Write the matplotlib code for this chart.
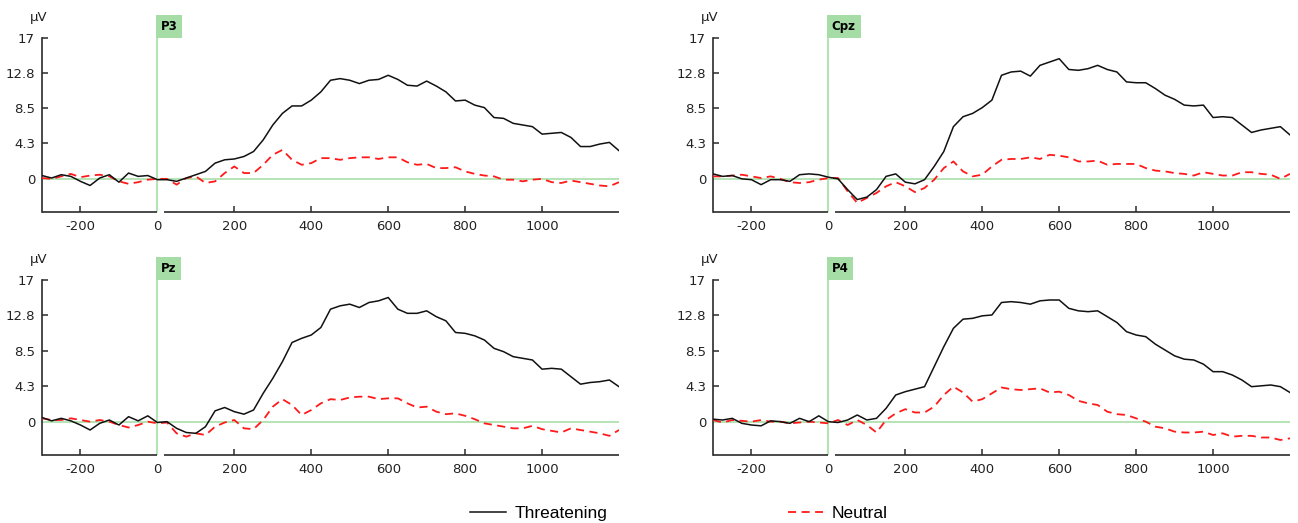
import numpy as np
import matplotlib
matplotlib.use("Agg")
import matplotlib.pyplot as plt
import matplotlib.transforms as mtransforms
from matplotlib.lines import Line2D

plt.rcParams["axes.unicode_minus"] = False

# time axis (ms), sampled every 25 ms
times = np.arange(-300, 1201, 25)

channels = ["P3", "Cpz", "Pz", "P4"]

# ERP amplitudes (uV)
p3_threat = [0.4, 0.1, 0.5, 0.3, -0.3, -0.8, 0.1, 0.5, -0.4, 0.7,
             0.3, 0.4, -0.1, -0.1, -0.3, 0.1, 0.5, 0.9, 1.9, 2.3,
             2.4, 2.7, 3.3, 4.7, 6.5, 7.9, 8.8, 8.8, 9.5, 10.5,
             11.9, 12.1, 11.9, 11.5, 11.9, 12.0, 12.5, 12.0, 11.3, 11.2,
             11.8, 11.2, 10.5, 9.4, 9.5, 8.9, 8.6, 7.4, 7.3, 6.7,
             6.5, 6.3, 5.4, 5.5, 5.6, 5.0, 3.9, 3.9, 4.2, 4.4, 3.4]
p3_neutral = [0.1, 0.0, 0.3, 0.6, 0.2, 0.4, 0.5, 0.3, -0.3, -0.6,
              -0.4, -0.1, 0.0, 0.0, -0.7, 0.1, 0.3, -0.5, -0.3, 0.7,
              1.5, 0.7, 0.7, 1.7, 2.9, 3.5, 2.3, 1.7, 1.9, 2.5,
              2.5, 2.3, 2.5, 2.6, 2.6, 2.4, 2.6, 2.6, 2.0, 1.7,
              1.8, 1.3, 1.3, 1.4, 0.9, 0.6, 0.4, 0.3, -0.1, -0.1,
              -0.3, -0.1, 0.0, -0.4, -0.5, -0.2, -0.4, -0.6, -0.8, -0.9, -0.4]

cpz_threat = [0.6, 0.3, 0.4, 0.0, -0.1, -0.7, -0.1, -0.1, -0.3, 0.5,
              0.6, 0.5, 0.2, 0.0, -1.3, -2.5, -2.2, -1.3, 0.3, 0.6,
              -0.4, -0.6, -0.1, 1.5, 3.3, 6.3, 7.5, 7.9, 8.6, 9.5,
              12.5, 12.9, 13.0, 12.4, 13.7, 14.1, 14.5, 13.2, 13.1, 13.3,
              13.7, 13.2, 12.9, 11.7, 11.6, 11.6, 10.9, 10.1, 9.6, 8.9,
              8.8, 8.9, 7.4, 7.5, 7.4, 6.5, 5.6, 5.9, 6.1, 6.3, 5.3]
cpz_neutral = [0.3, 0.3, 0.4, 0.5, 0.3, 0.1, 0.3, 0.0, -0.4, -0.5,
               -0.4, -0.1, 0.1, 0.1, -1.5, -2.9, -2.3, -1.7, -0.9, -0.4,
               -0.9, -1.6, -1.1, -0.1, 1.3, 2.1, 0.9, 0.3, 0.5, 1.5,
               2.3, 2.4, 2.4, 2.6, 2.4, 2.9, 2.8, 2.6, 2.1, 2.1,
               2.2, 1.7, 1.8, 1.8, 1.8, 1.3, 1.0, 0.9, 0.7, 0.6,
               0.4, 0.8, 0.6, 0.4, 0.4, 0.8, 0.8, 0.6, 0.5, 0.0, 0.6]

pz_threat = [0.5, 0.1, 0.4, 0.1, -0.4, -1.0, -0.2, 0.2, -0.4, 0.6,
             0.1, 0.7, -0.1, 0.0, -0.8, -1.3, -1.4, -0.6, 1.3, 1.7,
             1.2, 0.9, 1.4, 3.4, 5.2, 7.2, 9.5, 10.0, 10.4, 11.3,
             13.5, 13.9, 14.1, 13.7, 14.3, 14.5, 14.9, 13.5, 13.0, 13.0,
             13.3, 12.6, 12.1, 10.7, 10.6, 10.3, 9.8, 8.8, 8.4, 7.8,
             7.6, 7.4, 6.3, 6.4, 6.3, 5.4, 4.5, 4.7, 4.8, 5.0, 4.2]
pz_neutral = [0.4, 0.2, 0.2, 0.4, 0.2, 0.0, 0.2, 0.0, -0.4, -0.7,
              -0.4, 0.0, -0.2, -0.1, -1.4, -1.8, -1.4, -1.6, -0.6, -0.1,
              0.2, -0.8, -0.9, 0.2, 1.8, 2.7, 2.0, 0.8, 1.4, 2.2,
              2.7, 2.6, 2.9, 3.0, 3.0, 2.7, 2.8, 2.8, 2.2, 1.7,
              1.8, 1.2, 0.9, 1.0, 0.7, 0.3, -0.2, -0.4, -0.6, -0.8,
              -0.8, -0.5, -0.9, -1.1, -1.3, -0.8, -1.0, -1.2, -1.4, -1.7, -1.0]

p4_threat = [0.3, 0.2, 0.4, -0.2, -0.4, -0.5, 0.1, 0.0, -0.2, 0.4,
             0.0, 0.7, 0.0, -0.1, 0.2, 0.8, 0.2, 0.4, 1.6, 3.2,
             3.6, 3.9, 4.2, 6.6, 9.0, 11.2, 12.3, 12.4, 12.7, 12.8,
             14.3, 14.4, 14.3, 14.1, 14.5, 14.6, 14.6, 13.6, 13.3, 13.2,
             13.3, 12.6, 11.9, 10.8, 10.4, 10.2, 9.3, 8.6, 7.9, 7.5,
             7.4, 6.9, 6.0, 6.0, 5.6, 5.0, 4.2, 4.3, 4.4, 4.2, 3.5]
p4_neutral = [0.2, -0.1, 0.2, 0.1, 0.0, 0.2, 0.0, 0.0, -0.2, -0.1,
              0.0, -0.1, -0.2, 0.2, -0.4, 0.2, -0.4, -1.3, 0.2, 1.0,
              1.5, 1.1, 1.1, 1.8, 3.2, 4.2, 3.5, 2.4, 2.7, 3.4,
              4.1, 3.9, 3.8, 3.9, 4.0, 3.5, 3.6, 3.2, 2.5, 2.2,
              2.0, 1.2, 0.9, 0.8, 0.4, 0.0, -0.6, -0.8, -1.2, -1.3,
              -1.3, -1.2, -1.6, -1.4, -1.8, -1.7, -1.7, -1.9, -1.9, -2.2, -2.0]

threat = {"P3": p3_threat, "Cpz": cpz_threat, "Pz": pz_threat, "P4": p4_threat}
neutral = {"P3": p3_neutral, "Cpz": cpz_neutral, "Pz": pz_neutral, "P4": p4_neutral}

xticks = [-200, 0, 200, 400, 600, 800, 1000]
yticks = [0, 4.3, 8.5, 12.8, 17]
ytick_labels = ["0", "4.3", "8.5", "12.8", "17"]

W, H = 1298, 523
fig = plt.figure(figsize=(W / 100, H / 100), dpi=100)

# axes boxes in pixels: left, top, right, bottom
boxes = {
    "P3": (42, 38, 619, 212),
    "Cpz": (713, 38, 1290, 212),
    "Pz": (42, 280, 619, 455),
    "P4": (713, 280, 1290, 455),
}

green = "#b4e4b4"
box_green = "#a6dca6"
spine_col = "#2b2b2b"

for ch in channels:
    l, t, r, b = boxes[ch]
    ax = fig.add_axes([l / W, 1 - b / H, (r - l) / W, (b - t) / H])
    ax.set_xlim(-300, 1200)
    ax.set_ylim(-4, 17)

    ax.axhline(0, color=green, lw=1.4, zorder=1)
    ax.axvline(0, color=green, lw=1.5, zorder=1)

    ax.plot(times, neutral[ch], color="#ff1a1a", lw=1.3, dashes=(4.5, 3), zorder=3)
    ax.plot(times, threat[ch], color="#111111", lw=1.1, zorder=4)

    for s in ["top", "right", "bottom"]:
        ax.spines[s].set_visible(False)
    ax.spines["left"].set_color(spine_col)
    ax.spines["left"].set_linewidth(1.2)

    # broken bottom axis around stimulus onset
    ax.plot([-300, -1], [-4, -4], color=spine_col, lw=1.2, clip_on=False,
            solid_capstyle="butt")
    ax.plot([18, 1200], [-4, -4], color=spine_col, lw=1.2, clip_on=False,
            solid_capstyle="butt")

    ax.set_xticks(xticks)
    ax.set_yticks(yticks)
    ax.set_yticklabels(ytick_labels)
    ax.tick_params(direction="in", length=4, width=1.1, color=spine_col,
                   labelsize=9.5, labelcolor="#222222")
    ax.tick_params(axis="x", pad=6)
    ax.tick_params(axis="y", pad=5)
    ax.xaxis.get_major_ticks()[1].tick1line.set_visible(False)
    ax.yaxis.get_major_ticks()[0].tick1line.set_visible(False)

    ax.text(-0.005, 1.12, "µV", transform=ax.transAxes, ha="center",
            va="center", fontsize=9.5, color="#222222")

    trans = mtransforms.blended_transform_factory(ax.transData, ax.transAxes)
    ax.annotate(ch, xy=(0, 1), xycoords=trans, xytext=(2.5, 3.5),
                textcoords="offset points", ha="left", va="bottom",
                fontsize=8.5, fontweight="bold", color="black",
                bbox=dict(boxstyle="square,pad=0.4", fc=box_green, ec="none"))

handles = [Line2D([], [], color="#111111", lw=1.1),
           Line2D([], [], color="#ff1a1a", lw=1.3, dashes=(4.5, 3))]
fig.legend(handles, ["Threatening", "Neutral"], loc="center",
           bbox_to_anchor=(679 / W, 1 - 513 / H), ncol=2, frameon=False,
           prop={"family": "Liberation Sans", "size": 12.5},
           handlelength=2.05, handletextpad=0.5, columnspacing=10.4)

fig.savefig("out.png", dpi=100)
